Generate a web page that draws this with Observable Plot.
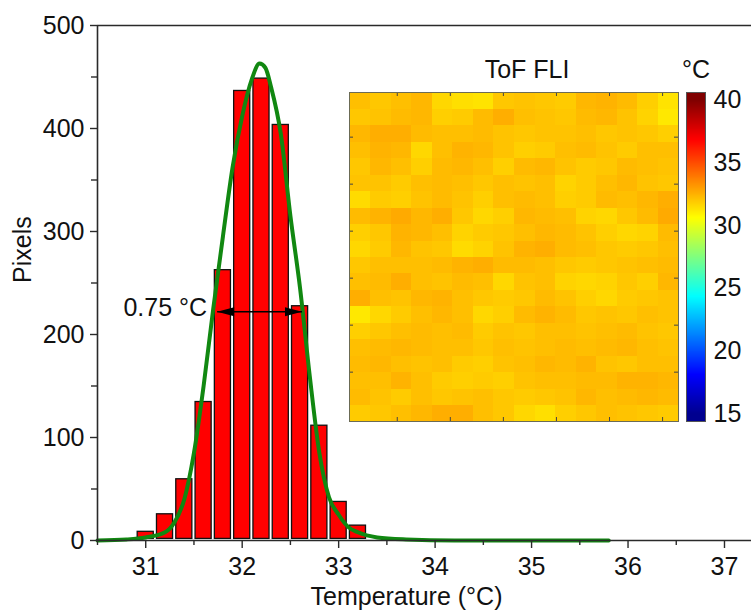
<!DOCTYPE html>
<html>
<head>
<meta charset="utf-8">
<script src="https://cdn.jsdelivr.net/npm/d3@7"></script>
<script src="https://cdn.jsdelivr.net/npm/@observablehq/plot@0.6"></script>
<style>
  html, body { margin: 0; padding: 0; background: #fff; }
  #wrap { position: relative; width: 751px; height: 611px; overflow: hidden; }
  #wrap svg { position: absolute; overflow: visible; }
</style>
</head>
<body>
<div id="wrap"></div>
<script>
// ---------- data ----------
const binCenters = [31.0, 31.2, 31.4, 31.6, 31.8, 32.0, 32.2, 32.4, 32.6, 32.8, 33.0, 33.2, 33.4];
const binCounts  = [10, 27, 61, 136, 264, 438, 450, 405, 229, 113, 39, 16, 3];
const binWidth = 0.2;

const fitTemps  = [30.5, 30.8, 31.0, 31.2, 31.3, 31.4, 31.5, 31.6, 31.7, 31.8, 31.9, 32.0, 32.1, 32.18, 32.24, 32.3, 32.4, 32.5, 32.6, 32.7, 32.8, 32.9, 33.0, 33.1, 33.2, 33.4, 33.7, 34.2, 35.8];
const fitPixels = [0, 1, 3, 8, 18, 40, 85, 150, 225, 295, 362, 412, 448, 463, 459, 440, 395, 315, 245, 160, 85, 42, 25, 13, 8, 3, 1, 0, 0];

const fwhmLabel = "0.75 °C";
const fwhmLo = 31.74, fwhmHi = 32.62, fwhmLevel = 222;

const xMajor = [31, 32, 33, 34, 35, 36, 37];
const xMinor = [30.5, 31.5, 32.5, 33.5, 34.5, 35.5, 36.5];
const yMajor = [0, 100, 200, 300, 400, 500];
const yMinor = [50, 150, 250, 350, 450];
const xDomain = [30.5, 37.28];
const yDomain = [0, 500];

// inset image (ToF FLI, °C), 20 rows x 16 columns, top row first
const fliRows = [
  [32.2,32.0,32.2,32.4,31.6,31.4,31.3,32.0, 32.1,32.0,31.9,32.4,32.5,32.3,31.8,31.3],
  [32.0,32.1,32.3,32.4,31.8,31.9,32.3,32.6, 32.2,32.1,32.0,32.3,32.4,32.1,31.7,31.2],
  [32.4,32.6,32.6,32.3,32.2,32.2,32.3,32.1, 32.0,32.1,32.1,32.2,32.0,32.1,32.0,31.8],
  [32.2,32.5,32.4,31.6,32.2,32.5,32.4,32.1, 31.8,31.9,32.2,32.3,32.1,31.9,32.2,32.2],
  [32.0,32.4,32.2,31.8,32.3,32.4,32.2,31.8, 32.3,32.4,32.1,31.9,32.0,32.3,32.2,32.1],
  [32.1,32.1,31.9,32.2,32.3,32.2,32.0,32.2, 32.1,32.2,31.7,31.9,32.2,32.4,32.1,32.0],
  [31.5,31.9,31.8,32.1,32.3,32.1,31.8,32.2, 32.3,32.2,31.8,31.9,32.3,32.2,32.4,32.6],
  [32.3,32.5,32.7,32.4,32.6,32.0,31.6,31.8, 32.4,32.3,32.2,31.7,31.6,32.0,32.3,32.7],
  [31.8,32.0,32.5,32.4,32.2,31.7,31.9,32.0, 32.2,32.4,32.3,32.1,31.8,31.6,31.7,32.3],
  [31.6,31.9,32.4,32.1,32.0,31.5,31.7,32.1, 32.5,32.6,32.3,32.2,32.0,31.9,32.0,32.2],
  [32.0,32.2,32.2,32.2,32.3,32.5,32.6,32.3, 32.3,32.2,32.0,31.9,32.0,32.1,32.2,32.3],
  [32.2,32.3,32.6,32.2,32.1,32.3,32.2,31.6, 32.1,32.2,31.7,31.6,31.7,32.0,31.8,32.4],
  [32.6,32.2,32.1,32.4,32.5,32.2,32.0,31.9, 32.0,32.3,32.1,31.8,31.6,31.9,32.0,32.1],
  [31.2,31.6,31.9,32.2,32.4,32.2,31.6,31.8, 32.3,32.5,32.3,32.0,32.1,32.0,32.2,32.1],
  [31.8,32.0,32.2,32.3,32.2,32.3,31.9,32.1, 32.0,32.2,32.2,32.1,32.2,32.3,32.1,32.0],
  [32.2,32.3,32.4,32.3,32.2,32.2,32.0,32.2, 32.1,32.2,32.3,32.2,32.3,32.4,32.2,32.1],
  [32.3,32.4,32.2,32.1,32.2,31.9,31.8,32.1, 32.2,32.4,32.3,32.5,32.1,32.0,32.2,32.2],
  [32.2,32.2,32.5,32.2,31.9,31.8,31.9,31.8, 32.1,32.2,32.2,32.3,32.3,32.5,32.5,32.4],
  [32.3,32.1,31.9,32.2,32.0,32.1,32.2,32.0, 31.9,32.0,32.1,32.4,32.2,32.3,32.4,32.3],
  [31.9,32.0,32.2,32.4,32.6,32.6,32.2,32.0, 31.6,31.4,31.8,32.0,32.2,32.1,32.0,31.9]
];
const insetTitle = "ToF FLI";
const insetXDomain = [1, 63];
const insetYDomain = [0.5, 70.5];
const insetTicks = [10, 20, 30, 40, 50, 60];

const cbarTicks = [15, 20, 25, 30, 35, 40];
const cbarDomain = [14.4, 40.6];
const cbarUnit = "°C";

// jet colormap stops
const jetStops  = [15, 18.125, 24.375, 30.625, 36.875, 40];
const jetColors = ["#00008f", "#0000ff", "#00ffff", "#ffff00", "#ff0000", "#800000"];

// ---------- build ----------
const FONT = "'Liberation Sans', Arial, sans-serif";
const FS = 25;
const INK = "#111";
const AXIS = "#2a2a2a";
const plain = d => String(d);

const bars = binCenters.map((t, i) => ({t, n: binCounts[i]}));
const fit = fitTemps.map((t, i) => ({t, n: fitPixels[i]}));

const headLeft = {draw(ctx) { ctx.moveTo(0, 0); ctx.lineTo(17, -4.5); ctx.lineTo(17, 4.5); ctx.closePath(); }};
const headRight = {draw(ctx) { ctx.moveTo(0, 0); ctx.lineTo(-17, -4.5); ctx.lineTo(-17, 4.5); ctx.closePath(); }};

const main = Plot.plot({
  width: 751, height: 611,
  marginLeft: 97, marginRight: 0, marginTop: 25, marginBottom: 71,
  style: {fontFamily: FONT, fontSize: FS + "px", color: INK, background: "white"},
  x: {domain: xDomain, label: null},
  y: {domain: yDomain, label: null},
  marks: [
    Plot.rectY(bars, {x1: d => d.t - binWidth / 2, x2: d => d.t + binWidth / 2, y: "n",
      fill: "#ff0000", stroke: "#111", strokeWidth: 1.3, inset: 1.6}),
    Plot.line(fit, {x: "t", y: "n", stroke: "#118811", strokeWidth: 4, curve: "monotone-x"}),
    Plot.ruleY([yDomain[0]], {stroke: AXIS, strokeWidth: 1.6}),
    Plot.ruleY([yDomain[1]], {stroke: AXIS, strokeWidth: 1.6}),
    Plot.ruleX([xDomain[0]], {stroke: AXIS, strokeWidth: 1.6}),
    Plot.axisY({ticks: yMajor, tickSize: 7, tickPadding: 6, tickFormat: plain, stroke: AXIS, strokeWidth: 1.4, label: null}),
    Plot.axisY({ticks: yMinor, tickSize: 6, tickFormat: () => "", stroke: AXIS, strokeWidth: 1.4, label: null}),
    Plot.axisX({ticks: xMajor, tickSize: 8, tickPadding: 9, tickFormat: plain, stroke: AXIS, strokeWidth: 1.4, label: null}),
    Plot.axisX({ticks: xMinor, tickSize: 5, tickFormat: () => "", stroke: AXIS, strokeWidth: 1.4, label: null}),
    Plot.link([0], {x1: () => fwhmLo, x2: () => fwhmHi, y1: () => fwhmLevel, y2: () => fwhmLevel, stroke: "#000", strokeWidth: 1.5}),
    Plot.dot([fwhmLo], {x: d => d, y: () => fwhmLevel, symbol: headLeft, fill: "#000", stroke: "none"}),
    Plot.dot([fwhmHi], {x: d => d, y: () => fwhmLevel, symbol: headRight, fill: "#000", stroke: "none"}),
    Plot.text([fwhmLabel], {x: () => fwhmLo, y: () => fwhmLevel, text: d => d, textAnchor: "end", dx: -10, dy: -4, fill: INK}),
    Plot.text(["Temperature (°C)"], {frameAnchor: "bottom", lineAnchor: "top", dy: 47, dx: -18, fill: INK}),
    Plot.text(["Pixels"], {frameAnchor: "left", rotate: -90, dx: -75, fill: INK})
  ]
});
main.style.left = "0px"; main.style.top = "0px";

const colorScale = {type: "linear", domain: jetStops, range: jetColors, clamp: true, interpolate: "rgb"};

const flat = fliRows.flat();
const inset = Plot.plot({
  width: 331, height: 372,
  marginLeft: 1, marginRight: 1, marginTop: 42, marginBottom: 1,
  style: {fontFamily: FONT, fontSize: FS + "px", color: INK, background: "transparent"},
  x: {domain: insetXDomain, axis: null},
  y: {domain: insetYDomain, reverse: true, axis: null},
  color: colorScale,
  marks: [
    Plot.raster(flat, {width: fliRows[0].length, height: fliRows.length,
      x1: insetXDomain[0], x2: insetXDomain[1], y1: insetYDomain[0], y2: insetYDomain[1],
      fill: d => d, imageRendering: "pixelated"}),
    Plot.ruleX(insetTicks, {x: d => d, insetBottom: 325, stroke: "#444"}),
    Plot.ruleX(insetTicks, {x: d => d, insetTop: 325, stroke: "#444"}),
    Plot.ruleY(insetTicks, {y: d => d, insetRight: 325, stroke: "#444"}),
    Plot.ruleY(insetTicks, {y: d => d, insetLeft: 325, stroke: "#444"}),
    Plot.frame({stroke: "#6b6b55", strokeWidth: 1}),
    Plot.text([insetTitle], {frameAnchor: "top", dy: -23, dx: 13, lineAnchor: "middle", fill: INK})
  ]
});
inset.style.left = "348px"; inset.style.top = "50px";

const cbar = Plot.plot({
  width: 65, height: 380,
  marginLeft: 1, marginRight: 45, marginTop: 42, marginBottom: 9,
  style: {fontFamily: FONT, fontSize: FS + "px", color: INK, background: "transparent"},
  x: {domain: [0, 1], axis: null},
  y: {domain: cbarDomain, label: null, axis: null},
  color: colorScale,
  marks: [
    Plot.raster({fill: (x, y) => y, width: 1, height: 262, x1: 0, x2: 1, y1: cbarDomain[0], y2: cbarDomain[1]}),
    Plot.frame({stroke: "#555", strokeWidth: 1}),
    Plot.axisY({anchor: "right", ticks: cbarTicks, tickSize: 0, tickPadding: 8, tickFormat: plain, label: null}),
    Plot.text([cbarUnit], {frameAnchor: "top", dy: -23, lineAnchor: "middle", fill: INK})
  ]
});
cbar.style.left = "685px"; cbar.style.top = "50px";

const wrap = document.getElementById("wrap");
wrap.appendChild(main);
wrap.appendChild(inset);
wrap.appendChild(cbar);
</script>
</body>
</html>
